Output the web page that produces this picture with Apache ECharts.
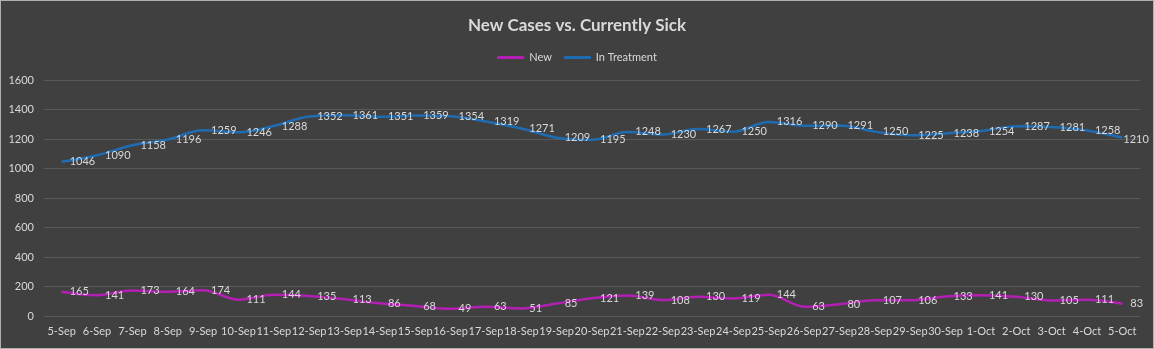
<!DOCTYPE html>
<html>
<head>
<meta charset="utf-8">
<script src="https://cdn.jsdelivr.net/npm/echarts@6/dist/echarts.min.js"></script>
<style>
html,body{margin:0;padding:0;background:#404040;}
#c{width:1154px;height:349px;box-sizing:border-box;border:1px solid #b0b0b0;}
</style>
</head>
<body>
<div id="c"></div>
<script>
var categories = ["5-Sep","6-Sep","7-Sep","8-Sep","9-Sep","10-Sep","11-Sep","12-Sep","13-Sep","14-Sep","15-Sep","16-Sep","17-Sep","18-Sep","19-Sep","20-Sep","21-Sep","22-Sep","23-Sep","24-Sep","25-Sep","26-Sep","27-Sep","28-Sep","29-Sep","30-Sep","1-Oct","2-Oct","3-Oct","4-Oct","5-Oct"];
var newCases = [165,141,173,164,174,111,144,135,113,86,68,49,63,51,85,121,139,108,130,119,144,63,80,107,106,133,141,130,105,111,83];
var inTreatment = [1046,1090,1158,1196,1259,1246,1288,1352,1361,1351,1359,1354,1319,1271,1209,1195,1248,1230,1267,1250,1316,1290,1291,1250,1225,1238,1254,1287,1281,1258,1210];
var yTicks = [0,200,400,600,800,1000,1200,1400,1600];

var chart = echarts.init(document.getElementById('c'));
var font = 'Lato';
var lbl = {show:true, position:'right', distance:8, color:'#d9d9d9', fontSize:11, fontFamily:font};
function withLastLabel(arr, dist, dy){
  return arr.map(function(v,i){
    if(i===arr.length-1) return {value:v, label:{distance:dist, offset:[0,dy]}};
    return v;
  });
}
chart.setOption({
  backgroundColor:'#404040',
  title:{text:'New Cases vs. Currently Sick', left:'center', top:11,
    textStyle:{color:'#d9d9d9', fontSize:17, fontWeight:'bold', fontFamily:font}},
  legend:{top:46, left:'center', itemWidth:27, itemHeight:3, itemGap:12,
    icon:'rect',
    textStyle:{color:'#d9d9d9', fontSize:11, fontFamily:font},
    data:['New','In Treatment']},
  grid:{left:43, right:13, top:79, bottom:32, containLabel:false},
  xAxis:{type:'category', data:categories, boundaryGap:true,
    axisLine:{lineStyle:{color:'#595959'}}, axisTick:{show:false},
    axisLabel:{interval:0, color:'#d9d9d9', fontSize:11, fontFamily:font, margin:10}},
  yAxis:{type:'value', min:yTicks[0], max:yTicks[yTicks.length-1], interval:200,
    axisLine:{show:false}, axisTick:{show:false},
    splitLine:{lineStyle:{color:'#595959'}},
    axisLabel:{color:'#d9d9d9', fontSize:11, fontFamily:font, margin:10, formatter:function(v){return String(v);}}},
  series:[
    {name:'New', type:'line', data:withLastLabel(newCases, 8, 0), smooth:0.35, showSymbol:true, symbol:'circle', symbolSize:0.01,
      lineStyle:{color:'#b31fb3', width:2.5}, itemStyle:{color:'#b31fb3'}, label:lbl},
    {name:'In Treatment', type:'line', data:withLastLabel(inTreatment, 1, 2), smooth:0.35, showSymbol:true, symbol:'circle', symbolSize:0.01,
      lineStyle:{color:'#1f6cb2', width:2.5}, itemStyle:{color:'#1f6cb2'}, label:lbl}
  ]
});
</script>
</body>
</html>
